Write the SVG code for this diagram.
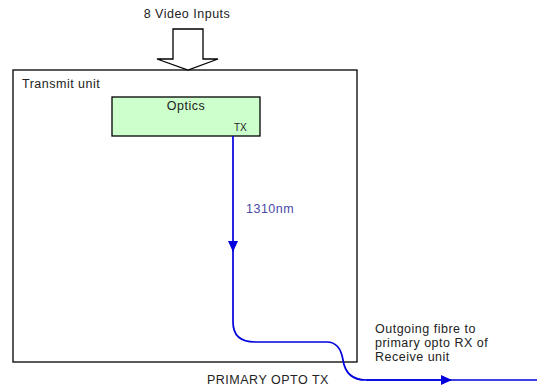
<svg xmlns="http://www.w3.org/2000/svg" width="537" height="388" viewBox="0 0 537 388">
<style>
text{font-family:"Liberation Sans",Arial,sans-serif;font-size:12.5px;letter-spacing:0.5px;fill:#222}
.blue{stroke:#0000dd;stroke-width:1.7;fill:none}
</style>
<defs>
<marker id="ah" markerWidth="12" markerHeight="10" refX="10" refY="5" orient="auto" markerUnits="userSpaceOnUse">
<path d="M0,0 L11,5 L0,10 Z" fill="#0000dd"/>
</marker>
</defs>
<rect width="537" height="388" fill="#fff"/>
<text x="187" y="18" text-anchor="middle">8 Video Inputs</text>
<g id="transmit-unit">
<rect x="13" y="70" width="344" height="292" fill="none" stroke="#000" stroke-width="1.3"/>
<text x="22" y="88">Transmit unit</text>
</g>
<g id="input-arrow">
<path d="M173,29 H203 V59 H218 L188,70 L157,59 H173 Z" fill="#fff" stroke="#000" stroke-width="1.3"/>
</g>
<g id="optics">
<rect x="112" y="97" width="148" height="39" fill="#ccffcc" stroke="#000" stroke-width="1.3"/>
<text x="186" y="110" text-anchor="middle">Optics</text>
<text x="234" y="131" style="font-size:10px;letter-spacing:0">TX</text>
</g>
<g id="connectors">
<path class="blue" d="M233,136 V251" marker-end="url(#ah)"/>
<path class="blue" d="M233,245 V322 Q233,342 255,342 H327 Q340,342 343,360 Q346,380 366,380 H537"/>
<path class="blue" d="M366,380 H451" marker-end="url(#ah)"/>
</g>
<text x="246" y="213" style="fill:#4a4aa8">1310nm</text>
<text x="207" y="384">PRIMARY OPTO TX</text>
<text x="375" y="333">Outgoing fibre to</text>
<text x="375" y="347">primary opto RX of</text>
<text x="375" y="361">Receive unit</text>
</svg>
